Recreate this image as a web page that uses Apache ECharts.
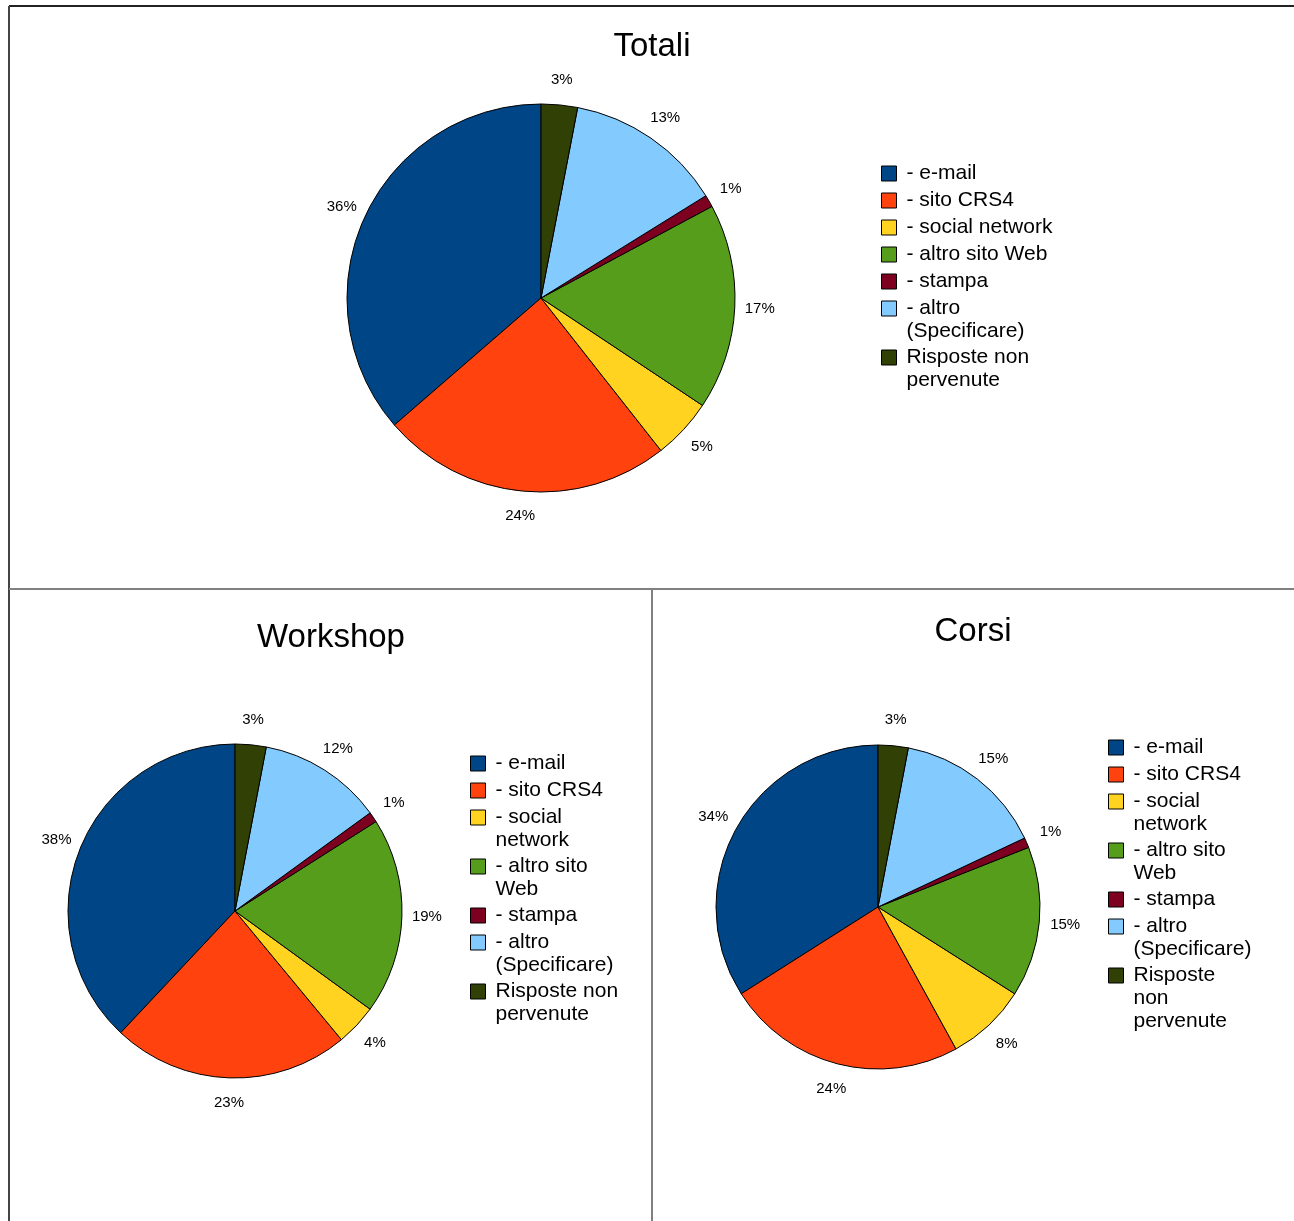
<!DOCTYPE html>
<html>
<head>
<meta charset="utf-8">
<title>Totali / Workshop / Corsi</title>
<script src="https://cdn.jsdelivr.net/npm/echarts@6/dist/echarts.min.js"></script>
<style>
  html, body { margin: 0; padding: 0; background: #fff; }
  #chart { width: 1294px; height: 1221px; }
</style>
</head>
<body>
<div id="chart"></div>
<script>
// categories, same order for all three pies
const categories = [
  '- e-mail',
  '- sito CRS4',
  '- social network',
  '- altro sito Web',
  '- stampa',
  '- altro (Specificare)',
  'Risposte non pervenute'
];

// percentages
const totaliValues = [36, 24, 5, 17, 1, 13, 3];
const workshopValues = [38, 23, 4, 19, 1, 12, 3];
const corsiValues = [34, 24, 8, 15, 1, 15, 3];

// legend text as wrapped in each panel
const totaliLegend = ['- e-mail', '- sito CRS4', '- social network', '- altro sito Web', '- stampa', '- altro\n(Specificare)', 'Risposte non\npervenute'];
const workshopLegend = ['- e-mail', '- sito CRS4', '- social\nnetwork', '- altro sito\nWeb', '- stampa', '- altro\n(Specificare)', 'Risposte non\npervenute'];
const corsiLegend = ['- e-mail', '- sito CRS4', '- social\nnetwork', '- altro sito\nWeb', '- stampa', '- altro\n(Specificare)', 'Risposte\nnon\npervenute'];

const colors = ['#004586', '#ff420e', '#ffd320', '#579d1c', '#7e0021', '#83caff', '#314004'];

const FONT = 'Liberation Sans, Arial, sans-serif';
const LINE_H = 23;

function pieData(values) {
  return categories.map((name, i) => ({ name: name, value: values[i] }));
}

function makePie(values, center, r) {
  return {
    type: 'pie',
    center: center,
    radius: [0, r],
    startAngle: 90,
    clockwise: false,
    silent: true,
    label: { show: false },
    labelLine: { show: false },
    itemStyle: { borderColor: '#000', borderWidth: 1 },
    data: pieData(values)
  };
}

// transparent ring just outside the pie, used only to place the % labels
function makeLabelRing(values, center, r, w) {
  return {
    type: 'pie',
    center: center,
    radius: [r, r + w],
    startAngle: 90,
    clockwise: false,
    silent: true,
    itemStyle: { color: 'transparent', borderWidth: 0 },
    label: {
      show: true,
      position: 'inside',
      formatter: '{c}%',
      color: '#000',
      fontFamily: FONT,
      fontSize: 15
    },
    labelLine: { show: false },
    data: pieData(values)
  };
}

function makeLegend(wrapped, left, top) {
  const textMap = {};
  categories.forEach((c, i) => { textMap[c] = wrapped[i]; });
  return {
    orient: 'vertical',
    left: left,
    top: top,
    padding: 0,
    itemGap: 4,
    itemWidth: 15,
    itemHeight: 15,
    icon: 'rect',
    selectedMode: false,
    itemStyle: { borderColor: '#000', borderWidth: 1 },
    textStyle: {
      fontFamily: FONT,
      fontSize: 21,
      color: '#000',
      lineHeight: LINE_H,
      rich: { n: {} }
    },
    formatter: function (name) { return textMap[name]; },
    data: categories.map((c, i) => {
      const lines = wrapped[i].split('\n').length;
      return {
        name: c,
        // keep the swatch level with the first text line
        textStyle: { padding: [0, 0, -(lines - 1) * LINE_H, 5] }
      };
    })
  };
}

function makeTitle(text, centerX, top) {
  return {
    text: text,
    left: centerX,
    top: top,
    textAlign: 'center',
    padding: 0,
    textStyle: { fontFamily: FONT, fontSize: 33, fontWeight: 'normal', color: '#000' }
  };
}

const chart = echarts.init(document.getElementById('chart'));
chart.setOption({
  animation: false,
  backgroundColor: '#fff',
  color: colors,
  title: [
    makeTitle('Totali', 652, 30),
    makeTitle('Workshop', 331, 621),
    makeTitle('Corsi', 973, 615)
  ],
  legend: [
    makeLegend(totaliLegend, 881, 162),
    makeLegend(workshopLegend, 470, 752),
    makeLegend(corsiLegend, 1108, 736)
  ],
  graphic: [
    { type: 'line', shape: { x1: 9, y1: 6, x2: 1294, y2: 6 }, style: { stroke: '#222', lineWidth: 2 } },
    { type: 'line', shape: { x1: 9, y1: 6, x2: 9, y2: 1221 }, style: { stroke: '#444', lineWidth: 2 } },
    { type: 'line', shape: { x1: 9, y1: 589, x2: 1294, y2: 589 }, style: { stroke: '#808080', lineWidth: 2 } },
    { type: 'line', shape: { x1: 652, y1: 589, x2: 652, y2: 1221 }, style: { stroke: '#808080', lineWidth: 2 } }
  ],
  series: [
    makePie(totaliValues, [541, 298], 194),
    makePie(workshopValues, [235, 911], 167),
    makePie(corsiValues, [878, 907], 162),
    makeLabelRing(totaliValues, [541, 298], 194, 44),
    makeLabelRing(workshopValues, [235, 911], 167, 44),
    makeLabelRing(corsiValues, [878, 907], 162, 46)
  ]
});

window.addEventListener('resize', () => chart.resize());
</script>
</body>
</html>
